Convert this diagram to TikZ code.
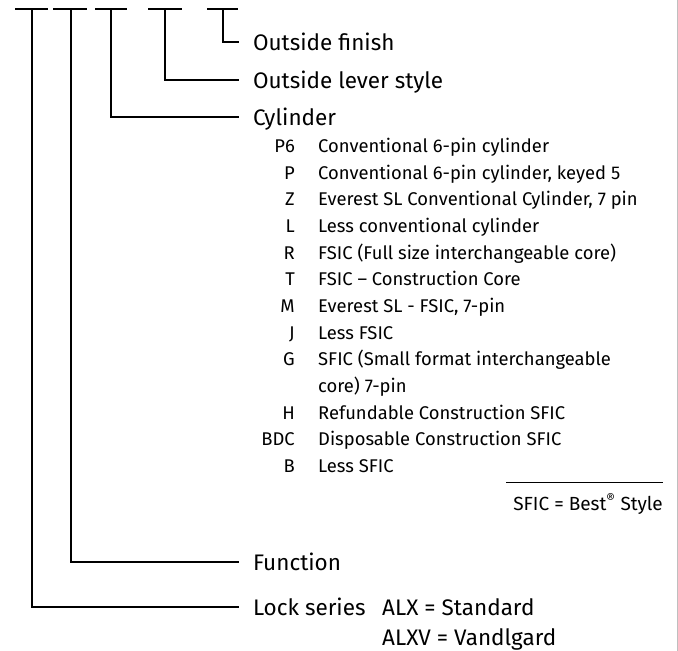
\documentclass[tikz,border=0pt]{standalone}
\usepackage{fontspec}
\setmainfont{Fira Sans}
\begin{document}
\begin{tikzpicture}[x=1pt,y=-1pt,
  conn/.style={line width=1.3pt, black},
  head/.style={anchor=west, inner sep=0pt, outer xsep=14pt, text height=17pt, text depth=0pt, font=\fontsize{22.5}{27}\selectfont},
  headtxt/.style={anchor=base west, inner sep=0pt, font=\fontsize{22.5}{27}\selectfont},
  code/.style={anchor=base east, inner sep=0pt, font=\fontsize{18.4}{22}\selectfont},
  desc/.style={anchor=base west, inner sep=0pt, font=\fontsize{18.4}{22}\selectfont},
  note/.style={anchor=base east, inner sep=0pt, font=\fontsize{19}{23}\selectfont},
  ]
\useasboundingbox (0,0) rectangle (678,651);
\draw[black!25, line width=1pt] (677,0) -- (677,651);
% top bars
\coordinate (b1l) at (15,9);  \coordinate (b1) at (32,9);  \coordinate (b1r) at (48,9);
\coordinate (b2l) at (53,9);  \coordinate (b2) at (71,9);  \coordinate (b2r) at (87,9);
\coordinate (b3l) at (95,9);  \coordinate (b3) at (111,9); \coordinate (b3r) at (127,9);
\coordinate (b4l) at (148,9); \coordinate (b4) at (165,9); \coordinate (b4r) at (182,9);
\coordinate (b5l) at (207,9); \coordinate (b5) at (223,9); \coordinate (b5r) at (238,9);
\foreach \i in {1,...,5} \draw[conn] (b\i l) -- (b\i r);
% headings
\node[head] (finish) at (239,42)  {Outside finish};
\node[head] (lever)  at (239,80)  {Outside lever style};
\node[head] (cyl)    at (239,117) {Cylinder};
\node[head] (func)   at (239,562) {Function};
\node[head] (lock)   at (239,607) {Lock series};
\node[headtxt] (alx)  at (382,615) {ALX = Standard};
\node[headtxt] (alxv) at (382,645) {ALXV = Vandlgard};
\draw[conn] (b5) |- (finish.west);
\draw[conn] (b4) |- (lever.west);
\draw[conn] (b3) |- (cyl.west);
\draw[conn] (b2) |- (func.west);
\draw[conn] (b1) |- (lock.west);
% cylinder list
\node[code] (cP6)  at (295,152.5) {P6};  \node[desc] (dP6) at (318,152.5) {Conventional 6-pin cylinder};
\node[code] (cP)   at (295,179.2) {P};   \node[desc] (dP)  at (318,179.2) {Conventional 6-pin cylinder, keyed 5};
\node[code] (cZ)   at (295,205.8) {Z};   \node[desc] (dZ)  at (318,205.8) {Everest SL Conventional Cylinder, 7 pin};
\node[code] (cL)   at (295,232.5) {L};   \node[desc] (dL)  at (318,232.5) {Less conventional cylinder};
\node[code] (cR)   at (295,259.2) {R};   \node[desc] (dR)  at (318,259.2) {FSIC (Full size interchangeable core)};
\node[code] (cT)   at (295,285.8) {T};   \node[desc] (dT)  at (318,285.8) {FSIC – Construction Core};
\node[code] (cM)   at (295,312.5) {M};   \node[desc] (dM)  at (318,312.5) {Everest SL - FSIC, 7-pin};
\node[code] (cJ)   at (295,339.2) {J};   \node[desc] (dJ)  at (318,339.2) {Less FSIC};
\node[code] (cG)   at (295,365.8) {G};   \node[desc] (dG)  at (318,365.8) {SFIC (Small format interchangeable};
\node[desc] (dG2)  at (318,392.5) {core) 7-pin};
\node[code] (cH)   at (295,419.2) {H};   \node[desc] (dH)  at (318,419.2) {Refundable Construction SFIC};
\node[code] (cBDC) at (295,445.8) {BDC}; \node[desc] (dBDC) at (318,445.8) {Disposable Construction SFIC};
\node[code] (cB)   at (295,472.5) {B};   \node[desc] (dB)  at (318,472.5) {Less SFIC};
% note
\coordinate (s1) at (506,482); \coordinate (s2) at (663,482);
\draw[line width=1pt] (s1) -- (s2);
\node[note] (sfic) at (663,510) {SFIC = Best\textsuperscript{\textregistered} Style};
\end{tikzpicture}
\end{document}
